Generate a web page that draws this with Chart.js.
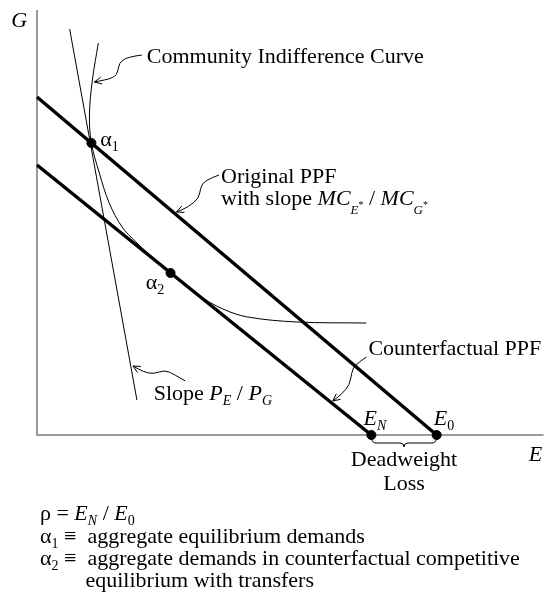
<!DOCTYPE html>
<html>
<head>
<meta charset="utf-8">
<script src="https://cdn.jsdelivr.net/npm/chart.js@4.4.1/dist/chart.umd.min.js"></script>
<style>
  html, body { margin: 0; padding: 0; background: #fff; }
  canvas { display: block; }
</style>
</head>
<body>
<canvas id="chart" width="549" height="599"></canvas>
<script>
const SERIF = "'Liberation Serif', 'Times New Roman', serif";

// E runs along the horizontal axis, G up the vertical one
const E_MAX = 512;
const G_MAX = 425;

const originalE = [0, 404];
const originalG = [338, 0];
const counterE  = [0, 338];
const counterG  = [270, 0];
const priceE    = [33, 101];
const priceG    = [406, 35];
const indiffE   = [62, 56, 53, 55, 63, 73, 86, 100, 113, 135, 163, 188, 213, 263, 333];
const indiffG   = [392, 355, 320, 292, 262, 232, 208, 193, 181, 162, 140, 126, 118, 113, 112];
const dotE      = [55, 135, 338, 404];   // alpha1, alpha2, E_N, E_0
const dotG      = [292, 162, 0, 0];

const pts = (xs, ys) => xs.map((x, i) => ({ x, y: ys[i] }));

function fontOf(p) {
  return (p[1] ? 'italic ' : '') + (p[3] || 22) + 'px ' + SERIF;
}

// parts: [text, italic, dy, size]
function rich(ctx, x, y, parts, align) {
  let w = 0;
  parts.forEach(p => { ctx.font = fontOf(p); w += ctx.measureText(p[0]).width; });
  let cx = align === 'center' ? x - w / 2 : x;
  parts.forEach(p => {
    ctx.font = fontOf(p);
    ctx.fillText(p[0], cx, y + (p[2] || 0));
    cx += ctx.measureText(p[0]).width;
  });
}

function squiggle(ctx, path) {
  ctx.beginPath();
  ctx.moveTo(path[0][0], path[0][1]);
  for (let i = 1; i < path.length - 1; i++) {
    const mx = (path[i][0] + path[i + 1][0]) / 2;
    const my = (path[i][1] + path[i + 1][1]) / 2;
    ctx.quadraticCurveTo(path[i][0], path[i][1], mx, my);
  }
  const n = path.length;
  ctx.lineTo(path[n - 1][0], path[n - 1][1]);
  ctx.stroke();
  // arrow head
  const [tx, ty] = path[n - 1];
  const [px, py] = path[n - 2];
  const a = Math.atan2(ty - py, tx - px);
  ctx.beginPath();
  ctx.moveTo(tx - 8 * Math.cos(a - 0.45), ty - 8 * Math.sin(a - 0.45));
  ctx.lineTo(tx, ty);
  ctx.lineTo(tx - 8 * Math.cos(a + 0.45), ty - 8 * Math.sin(a + 0.45));
  ctx.stroke();
}

const notes = {
  id: 'notes',
  beforeDatasetsDraw(chart) {
    const { ctx, chartArea: a } = chart;
    ctx.save();
    ctx.strokeStyle = '#7a7a7a';
    ctx.lineWidth = 1.5;
    ctx.beginPath();
    ctx.moveTo(a.left, a.top);
    ctx.lineTo(a.left, a.bottom);
    ctx.lineTo(a.right, a.bottom);
    ctx.stroke();
    ctx.restore();
  },
  afterDatasetsDraw(chart) {
    const { ctx } = chart;
    const X = v => chart.scales.x.getPixelForValue(v);
    const Y = v => chart.scales.y.getPixelForValue(v);
    const P = (e, g) => [X(e), Y(g)];
    ctx.save();
    ctx.fillStyle = '#000';
    ctx.strokeStyle = '#000';
    ctx.lineWidth = 1;
    ctx.textBaseline = 'alphabetic';

    rich(ctx, X(-26), Y(408), [['G', 1]]);
    rich(ctx, X(497), Y(-26), [['E', 1]]);
    rich(ctx, X(111), Y(372), [['Community Indifference Curve']]);
    rich(ctx, X(64), Y(289), [['\u03b1'], ['1', 0, 5, 14]]);
    rich(ctx, X(110), Y(146), [['\u03b1'], ['2', 0, 5, 14]]);
    rich(ctx, X(186), Y(252), [['Original PPF']]);
    rich(ctx, X(186), Y(230), [['with slope '], ['MC', 1], ['E', 1, 9, 13], ['*', 0, 3, 10],
      [' / '], ['MC', 1], ['G', 1, 9, 13], ['*', 0, 3, 10]]);
    rich(ctx, X(335), Y(80), [['Counterfactual PPF']]);
    rich(ctx, X(118), Y(35), [['Slope '], ['P', 1], ['E', 1, 5, 14], [' / '], ['P', 1], ['G', 1, 5, 14]]);
    rich(ctx, X(330), Y(10), [['E', 1], ['N', 1, 5, 14]]);
    rich(ctx, X(401), Y(10), [['E', 1], ['0', 0, 5, 14]]);
    rich(ctx, X(371), Y(-31), [['Deadweight']], 'center');
    rich(ctx, X(371), Y(-55), [['Loss']], 'center');

    rich(ctx, X(3), Y(-85), [['\u03c1 = '], ['E', 1], ['N', 1, 5, 14], [' / '], ['E', 1], ['0', 0, 5, 14]]);
    rich(ctx, X(3), Y(-108), [['\u03b1'], ['1', 0, 5, 14], [' \u2261  aggregate equilibrium demands']]);
    rich(ctx, X(3), Y(-130), [['\u03b1'], ['2', 0, 5, 14], [' \u2261  aggregate demands in counterfactual competitive']]);
    rich(ctx, X(49), Y(-152), [['equilibrium with transfers']]);

    squiggle(ctx, [P(106, 380), P(91, 378), P(83, 372), P(82, 364), P(78, 357), P(58, 353)]);
    squiggle(ctx, [P(184, 260), P(170, 255), P(165, 247), P(164, 237), P(153, 228), P(141, 223)]);
    squiggle(ctx, [P(333, 78), P(321, 70), P(318, 62), P(316, 50), P(308, 41), P(299, 34)]);
    squiggle(ctx, [P(150, 54), P(138, 61), P(129, 65), P(118, 61), P(108, 63), P(97, 69)]);

    // brace under the dead-weight loss
    const l = X(dotE[2]), r = X(dotE[3]), m = (l + r) / 2;
    const t = Y(0) + 2, b = Y(0) + 11;
    ctx.beginPath();
    ctx.moveTo(l, t);
    ctx.quadraticCurveTo(l, b - 3, l + 5, b - 3);
    ctx.lineTo(m - 4, b - 3);
    ctx.quadraticCurveTo(m, b - 3, m, b + 1);
    ctx.quadraticCurveTo(m, b - 3, m + 4, b - 3);
    ctx.lineTo(r - 5, b - 3);
    ctx.quadraticCurveTo(r, b - 3, r, t);
    ctx.stroke();
    ctx.restore();
  }
};

const line = (data, width) => ({
  data, showLine: true, borderColor: '#000', borderWidth: width,
  pointRadius: 0, fill: false, clip: false
});

new Chart(document.getElementById('chart'), {
  type: 'scatter',
  data: {
    datasets: [
      line(pts(priceE, priceG), 1),
      Object.assign(line(pts(indiffE, indiffG), 1), { tension: 0.35 }),
      line(pts(originalE, originalG), 3.5),
      line(pts(counterE, counterG), 3.5),
      {
        data: pts(dotE, dotG), showLine: false, pointRadius: 4.5,
        pointBackgroundColor: '#000', pointBorderColor: '#000', clip: false
      }
    ]
  },
  options: {
    responsive: false,
    animation: false,
    layout: { padding: { left: 37, top: 10, right: 0, bottom: 164 } },
    plugins: { legend: { display: false }, tooltip: { enabled: false } },
    scales: {
      x: { type: 'linear', min: 0, max: E_MAX, display: false },
      y: { type: 'linear', min: 0, max: G_MAX, display: false }
    }
  },
  plugins: [notes]
});
</script>
</body>
</html>
